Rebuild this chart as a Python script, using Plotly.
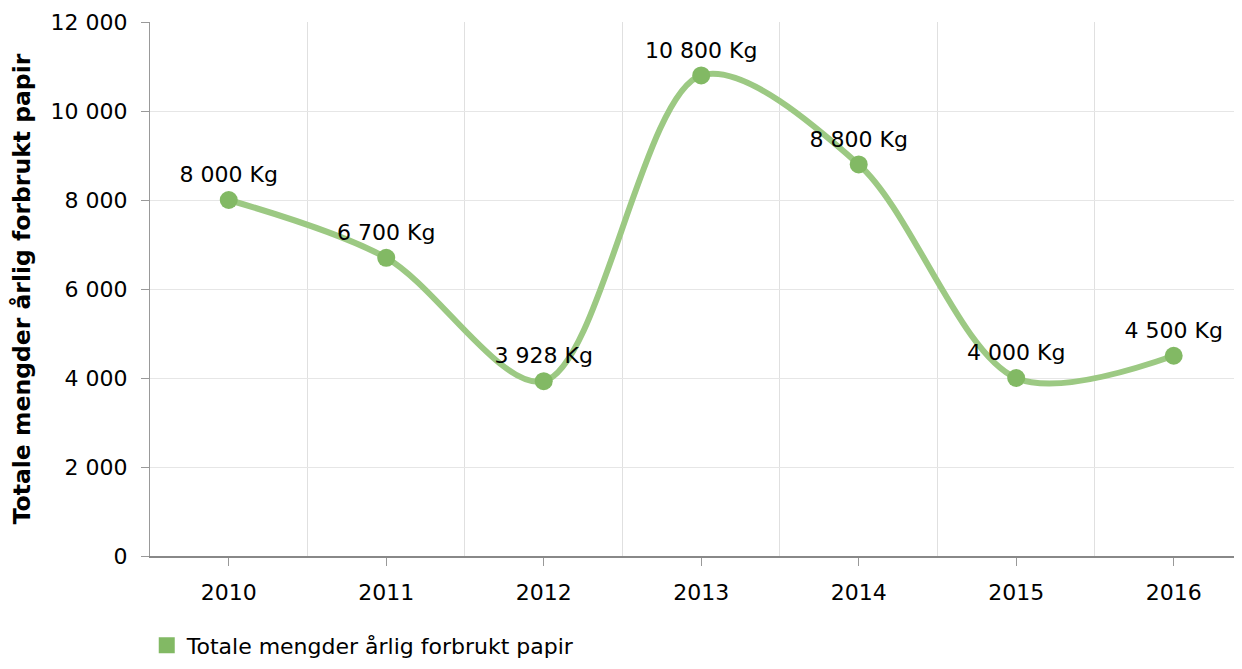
import plotly.graph_objects as go

years = [2010, 2011, 2012, 2013, 2014, 2015, 2016]
values = [8000, 6700, 3928, 10800, 8800, 4000, 4500]
series_name = "Totale mengder årlig forbrukt papir"
y_title = "Totale mengder årlig forbrukt papir"

FONT = "DejaVu Sans"
LINE_C = "#9cc983"
MARK_C = "#82b964"
FS = 22

fig = go.Figure()
fig.add_trace(go.Scatter(
    x=years, y=values, mode="lines+markers+text",
    line=dict(color=LINE_C, width=6, shape="spline", smoothing=0.9),
    marker=dict(color=MARK_C, size=18),
    text=[f"{v:,}".replace(",", " ") + " Kg" for v in values],
    textposition="top center",
    textfont=dict(family=FONT, size=FS, color="#000"),
    showlegend=False, cliponaxis=False,
))
fig.add_trace(go.Scatter(
    x=[None], y=[None], mode="markers", name=series_name,
    marker=dict(color=MARK_C, size=30, symbol="square"),
))

fig.update_layout(
    width=1226, height=653,
    margin=dict(l=142, r=0, t=14, b=105),
    paper_bgcolor="white", plot_bgcolor="white",
    separators=", ",
    font=dict(family=FONT, size=FS, color="#000"),
    legend=dict(x=-0.003, xref="paper", y=0.056, yref="container",
                xanchor="left", yanchor="top",
                font=dict(family=FONT, size=FS), itemsizing="trace"),
    xaxis=dict(
        range=[2009.5, 2016.383], tickmode="array", tickvals=years,
        tickformat="d", showgrid=False, zeroline=False,
        showline=True, linecolor="#888", linewidth=2,
        ticks="outside", ticklen=8, tickcolor="#999",
        ticklabelstandoff=8,
        minor=dict(tick0=2009.5, dtick=1, showgrid=True, gridcolor="#e0e0e0", gridwidth=1),
        tickfont=dict(size=FS),
    ),
    yaxis=dict(
        range=[0, 12000], dtick=2000, tickformat=",",
        showgrid=True, gridcolor="#e6e6e6", zeroline=False,
        showline=True, linecolor="#999", linewidth=1,
        ticks="outside", ticklen=8, tickcolor="#999",
        ticklabelstandoff=9,
        tickfont=dict(size=FS),
        title=dict(text=y_title, font=dict(family=FONT, size=23.5, weight="bold"), standoff=14),
    ),
)
fig.write_html("out.html")
